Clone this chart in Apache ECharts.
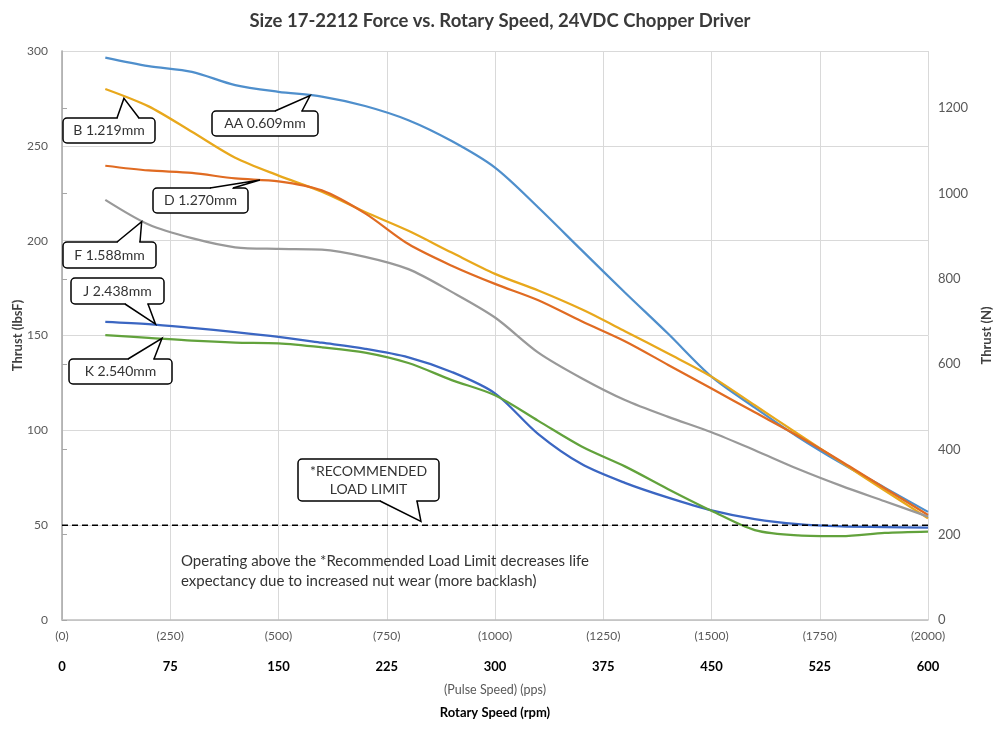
<!DOCTYPE html>
<html>
<head>
<meta charset="utf-8">
<script src="https://cdn.jsdelivr.net/npm/echarts@6/dist/echarts.min.js"></script>
<style>
  html, body { margin: 0; padding: 0; background: #fff; }
  #chart { width: 1000px; height: 731px; }
</style>
</head>
<body>
<div id="chart"></div>
<script>
// pulse speed (pps) sample points shared by all curves
const pps = [100, 200, 300, 400, 500, 600, 700, 800, 900, 1000, 1100, 1200, 1300, 1400, 1500, 1600, 1700, 1800, 1900, 2000]

// thrust (lbsF) per lead
const thrustAA = [296.5, 292, 289, 282, 278.5, 276, 271, 263.5, 252.5, 238.5, 217.5, 195, 172.7, 150.9, 128.3, 112, 96.5, 82.6, 69.8, 57]
const thrustB = [280, 270.8, 257.4, 243.7, 234.3, 225.8, 215.1, 205.2, 193.7, 182.5, 173.7, 163.8, 152.3, 140.5, 128.3, 113.2, 98.1, 83.1, 68.3, 53.6]
const thrustD = [239.5, 237, 235.7, 232.8, 231.3, 226.5, 214.4, 198.2, 186.8, 177.2, 168.6, 157.5, 147, 134.5, 122, 109.5, 97, 83.6, 69.5, 55.4]
const thrustF = [221.5, 208.5, 201.3, 196.5, 195.7, 195.3, 191.5, 185, 173, 159.5, 141, 127.5, 116, 107.1, 99, 89.5, 79.6, 70.7, 62.6, 54.5]
const thrustJ = [157.2, 156, 154, 151.8, 149.3, 146.2, 143, 138.5, 130.8, 119.5, 98, 82.2, 72.3, 64.5, 57.8, 53.2, 50.5, 49.3, 49, 48.7]
const thrustK = [150.2, 148.8, 147.3, 146.3, 145.9, 143.8, 141, 135.5, 126.5, 118.5, 105, 91.5, 81, 69, 57.6, 47.4, 44.6, 44.2, 45.9, 46.6]

const seriesNames = ['AA 0.609mm', 'B 1.219mm', 'D 1.270mm', 'F 1.588mm', 'J 2.438mm', 'K 2.540mm']
const seriesData = [thrustAA, thrustB, thrustD, thrustF, thrustJ, thrustK]
const seriesColors = ['#4f8fcc', '#e8a81c', '#e06b22', '#999999', '#3b66c2', '#62a23c']

const loadLimit = 50
const lbfToN = 4.448

// callouts: tip in data coords [pps, lbsF]; box in px [x, y, w, h]; pointer base on 'top' or 'bottom'
const callouts = [
  { text: 'AA 0.609mm', tip: [573, 276.5], box: [212, 111, 106, 25], side: 'top', base: [275, 302] },
  { text: 'B 1.219mm', tip: [143, 275], box: [63, 118, 92, 25], side: 'top', base: [117, 139] },
  { text: 'D 1.270mm', tip: [457, 232], box: [153, 188, 95, 25], side: 'top', base: [210, 233] },
  { text: 'F 1.588mm', tip: [184, 210], box: [63, 242, 93, 26], side: 'top', base: [117, 140] },
  { text: 'J 2.438mm', tip: [216, 156], box: [71, 278, 93, 26], side: 'bottom', base: [125, 148] },
  { text: 'K 2.540mm', tip: [231, 148.5], box: [69, 359, 103, 25], side: 'top', base: [128, 154] },
  { text: '*RECOMMENDED\nLOAD LIMIT', tip: [829, 52], box: [298, 459, 141, 42], side: 'bottom', base: [380, 417] }
]

const FONT = 'Lato, "DejaVu Sans", sans-serif'
const chart = echarts.init(document.getElementById('chart'))

const option = {
  animation: false,
  textStyle: { fontFamily: FONT },
  title: {
    text: 'Size 17-2212 Force vs. Rotary Speed, 24VDC Chopper Driver',
    left: 'center', top: 7,
    textStyle: { fontSize: 18.5, fontWeight: 'bold', color: '#3a3a3a', fontFamily: FONT }
  },
  grid: { left: 62, right: 72, top: 51, bottom: 111, outerBoundsMode: 'none' },
  xAxis: [{
    type: 'value', min: 0, max: 2000, interval: 250, position: 'bottom',
    axisLine: { show: true, lineStyle: { color: '#bfbfbf', width: 1.5 } },
    axisTick: { show: false },
    splitLine: { show: true, lineStyle: { color: '#d9d9d9', width: 1 } },
    axisLabel: { color: '#595959', fontSize: 12, margin: 10, formatter: v => '(' + v + ')' },
    name: '(Pulse Speed) (pps)', nameLocation: 'middle', nameGap: 63,
    nameTextStyle: { color: '#595959', fontSize: 12.5 }
  }, {
    type: 'value', min: 0, max: 600, interval: 75, position: 'bottom',
    axisLine: { show: false }, axisTick: { show: false }, splitLine: { show: false },
    axisLabel: { color: '#000', fontSize: 13, fontWeight: 'bold', margin: 40 },
    name: 'Rotary Speed (rpm)', nameLocation: 'middle', nameGap: 86,
    nameTextStyle: { color: '#000', fontSize: 13, fontWeight: 'bold' }
  }],
  yAxis: [{
    type: 'value', min: 0, max: 300, interval: 50, position: 'left',
    axisLine: { show: true, lineStyle: { color: '#d9d9d9' } },
    axisTick: { show: false },
    splitLine: { show: true, lineStyle: { color: '#d9d9d9', width: 1 } },
    axisLabel: { color: '#595959', fontSize: 12, margin: 14 },
    name: 'Thrust (lbsF)', nameLocation: 'middle', nameGap: 38, nameRotate: 90, nameMoveOverlap: false,
    nameTextStyle: { color: '#404040', fontSize: 13, fontWeight: 'bold' }
  }, {
    type: 'value', min: 0, max: 300 * lbfToN, interval: 200, position: 'right',
    axisLine: { show: true, lineStyle: { color: '#a6a6a6', width: 1.5 } },
    axisTick: { show: true, length: 5, lineStyle: { color: '#a6a6a6' } },
    splitLine: { show: false },
    axisLabel: { color: '#595959', fontSize: 13, margin: 10, showMaxLabel: false, formatter: v => String(v) },
    name: 'Thrust (N)', nameLocation: 'middle', nameGap: 52, nameRotate: 90,
    nameTextStyle: { color: '#404040', fontSize: 13, fontWeight: 'bold' }
  }],
  series: seriesNames.map((name, i) => ({
    name, type: 'line', smooth: 0.3, symbol: 'none',
    xAxisIndex: 0, yAxisIndex: 0,
    lineStyle: { color: seriesColors[i], width: 2.25 },
    data: pps.map((x, j) => [x, seriesData[i][j]])
  })).concat([{
    name: 'Recommended Load Limit', type: 'line', symbol: 'none',
    xAxisIndex: 0, yAxisIndex: 0, z: 5,
    lineStyle: { color: '#000', width: 1.5, type: [6, 4] },
    data: [[0, loadLimit], [2000, loadLimit]]
  }])
}
chart.setOption(option)

function calloutGraphics(c) {
  const [bx, by, bw, bh] = c.box
  const tip = chart.convertToPixel({ xAxisIndex: 0, yAxisIndex: 0 }, c.tip)
  const edgeY = c.side === 'top' ? by : by + bh
  const inner = c.side === 'top' ? edgeY + 2 : edgeY - 2
  return [
    { type: 'rect', shape: { x: bx, y: by, width: bw, height: bh, r: 4 },
      style: { fill: '#fff', stroke: '#000', lineWidth: 1.5 }, z: 100 },
    { type: 'polygon', shape: { points: [[c.base[0] + 0.8, inner], [c.base[0] + 0.8, edgeY], tip, [c.base[1] - 0.8, edgeY], [c.base[1] - 0.8, inner]] },
      style: { fill: '#fff', stroke: null }, z: 101 },
    { type: 'polyline', shape: { points: [[c.base[0], edgeY], tip, [c.base[1], edgeY]] },
      style: { stroke: '#000', lineWidth: 1.5, fill: null }, z: 102 },
    { type: 'text', x: bx + bw / 2, y: by + bh / 2,
      style: { text: c.text, fill: '#333', font: '14px ' + FONT, align: 'center', verticalAlign: 'middle', lineHeight: 18 }, z: 103 }
  ]
}

chart.setOption({
  graphic: callouts.flatMap(calloutGraphics).concat([{
    type: 'text', left: 181, top: 551,
    style: {
      text: 'Operating above the *Recommended Load Limit decreases life\nexpectancy due to increased nut wear (more backlash)',
      fill: '#333', font: '15px ' + FONT, lineHeight: 20
    }
  }])
})
</script>
</body>
</html>
